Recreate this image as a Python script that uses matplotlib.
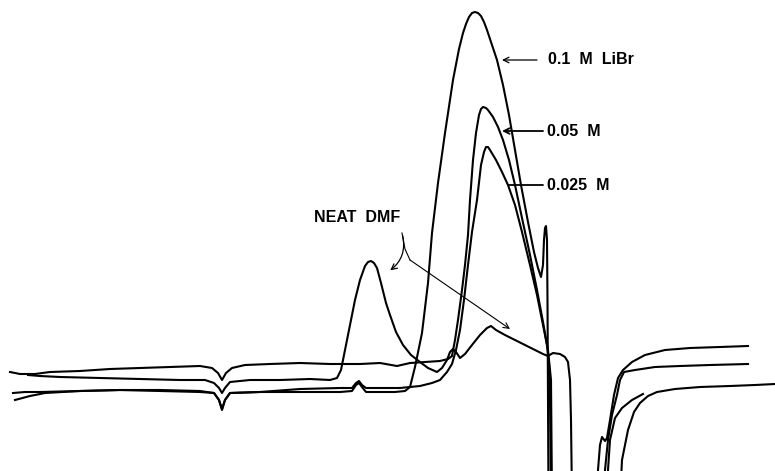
import numpy as np
import matplotlib.pyplot as plt
from matplotlib.patches import FancyArrowPatch

# elution time (chart units) and detector response for each run
t_libr_01 = [13, 25, 40, 80, 120, 160, 200, 214, 219, 222, 225, 230, 260, 300, 340, 352, 356, 359,
             362, 366, 395, 405, 410, 415, 422, 428, 432, 438, 445, 453, 459, 463, 466, 469, 472,
             475, 478, 481, 484, 487, 491, 497, 503, 509, 515, 521, 528, 534, 538, 541, 543, 544,
             545, 546, 547, 547.5, 548, 548.5]
r_libr_01 = [78, 79, 79, 80, 81, 80, 79, 78, 71, 61, 71, 78, 79, 79, 79, 80, 86, 88, 84, 79, 79, 80,
             84, 104, 138, 188, 238, 288, 338, 391, 422, 438, 447, 454, 458, 459, 458, 455, 449, 441,
             429, 411, 386, 356, 321, 286, 249, 219, 203, 194, 206, 231, 243, 245, 231, 171, 71, -29]
t_libr_01_tail = [606, 610, 615, 622, 632, 643]
r_libr_01_tail = [-29, 31, 53, 63, 71, 77]

t_libr_005 = [10, 20, 35, 50, 80, 110, 140, 170, 200, 212, 218, 222, 226, 232, 245, 270, 300, 330,
              360, 380, 397, 410, 425, 440, 448, 452, 455, 458, 462, 465, 468, 470, 473, 476, 479,
              481, 483, 486, 488, 493, 498, 503, 509, 515, 522, 530, 537, 543, 547, 549, 550, 551]
r_libr_005 = [99, 97, 97, 99, 100, 102, 103, 104, 105, 103, 98, 91, 98, 103, 106, 107, 108, 107, 107,
              108, 105, 108, 109, 110, 112, 115, 131, 151, 181, 206, 236, 271, 311, 338, 356, 362,
              364, 363, 361, 354, 344, 331, 311, 286, 253, 216, 181, 149, 126, 109, 71, -29]
t_libr_005_tail = [597, 598, 600, 602, 605, 607, 610, 614, 618, 623, 632, 645, 665, 690, 720, 748]
r_libr_005_tail = [-29, 1, 26, 34, 30, 33, 51, 76, 93, 101, 109, 116, 121, 123, 124, 125]

t_libr_0025 = [15, 30, 45, 80, 120, 160, 200, 214, 219, 222, 225, 230, 260, 300, 340, 352, 356, 359,
               362, 366, 400, 420, 432, 440, 447, 452, 456, 460, 464, 468, 472, 477, 481, 484, 486,
               488, 490, 496, 502, 508, 515, 522, 530, 537, 543, 548, 551, 552]
r_libr_0025 = [71, 75, 78, 80, 81, 81, 80, 78, 71, 62, 71, 78, 79, 82, 83, 83, 88, 90, 86, 83, 83, 85,
               88, 91, 99, 107, 121, 141, 171, 206, 239, 271, 306, 319, 324, 324, 321, 311, 299, 286,
               266, 239, 206, 176, 146, 121, 91, -29]
t_libr_0025_tail = [620, 622, 628, 634, 640, 648, 657, 675, 700, 730, 755, 775]
r_libr_0025_tail = [-29, 11, 41, 59, 68, 75, 79, 82, 84, 85, 86, 87]

t_dmf = [28, 40, 60, 100, 140, 180, 205, 214, 219, 222, 225, 230, 250, 280, 310, 330, 337, 341, 345,
         350, 355, 360, 365, 368, 371, 374, 377, 381, 386, 390, 396, 403, 411, 420, 428, 437, 442,
         447, 450, 453, 456, 460, 465, 472, 480, 487, 491, 496, 505, 515, 525, 535, 543, 548, 553,
         560, 565, 568, 570, 571, 572]
r_dmf = [96, 95, 94, 93, 92, 91, 91, 88, 83, 78, 83, 89, 91, 91, 92, 91, 93, 101, 121, 146, 171, 191,
         205, 209, 210, 208, 203, 188, 168, 156, 139, 126, 116, 109, 103, 99, 103, 111, 119, 122, 119,
         113, 117, 126, 136, 143, 145, 141, 136, 131, 126, 121, 117, 115, 118, 117, 114, 109, 91, 51,
         -29]
t_dmf_tail = [603, 605, 608, 612, 617, 620, 624, 635, 655, 680, 710, 748]
r_dmf_tail = [-29, 1, 31, 56, 76, 91, 99, 101, 104, 105, 106, 107]

fig = plt.figure(figsize=(7.75, 4.71), dpi=100)
ax = fig.add_axes([0, 0, 1, 1])
ax.set_xlim(0, 775)
ax.set_ylim(0, 471)
ax.axis('off')

trace = dict(color='black', lw=1.5, solid_joinstyle='round')
runs = [(t_libr_01, r_libr_01), (t_libr_01_tail, r_libr_01_tail),
        (t_libr_005, r_libr_005), (t_libr_005_tail, r_libr_005_tail),
        (t_libr_0025, r_libr_0025), (t_libr_0025_tail, r_libr_0025_tail),
        (t_dmf, r_dmf), (t_dmf_tail, r_dmf_tail)]
for t, r in runs:
    ax.plot(t, r, **trace)

font = dict(family='Liberation Sans', fontsize=11.5, fontweight='bold', color='black',
            va='center', ha='left')

# concentration labels on the right
ax.text(548, 411, '0.1  M  LiBr', **font)
ax.annotate('', xy=(502, 411), xytext=(537, 411),
            arrowprops=dict(arrowstyle='->', color='black', lw=0.9, shrinkA=0, shrinkB=0))
ax.text(547, 340, '0.05  M', **font)
ax.annotate('', xy=(502, 340), xytext=(543, 340),
            arrowprops=dict(arrowstyle='->', color='black', lw=1.3, shrinkA=0, shrinkB=0))
ax.text(547, 286, '0.025  M', **font)
ax.annotate('', xy=(508, 286), xytext=(543, 286),
            arrowprops=dict(arrowstyle='-', color='black', lw=1.3, shrinkA=0, shrinkB=0))

# neat solvent label with two pointers
ax.text(357, 253, 'NEAT  DMF', **{**font, 'ha': 'center'})
a1 = FancyArrowPatch((402, 238), (388, 199), connectionstyle='arc3,rad=-0.35',
                     arrowstyle='->', mutation_scale=10, color='black', lw=0.9)
ax.add_patch(a1)
ax.plot([402, 405, 410], [238, 222, 211], color='black', lw=0.8)
ax.annotate('', xy=(510, 142), xytext=(410, 211),
            arrowprops=dict(arrowstyle='->', color='black', lw=0.8, shrinkA=0, shrinkB=0))

fig.savefig('out.png', dpi=100, facecolor='white')
